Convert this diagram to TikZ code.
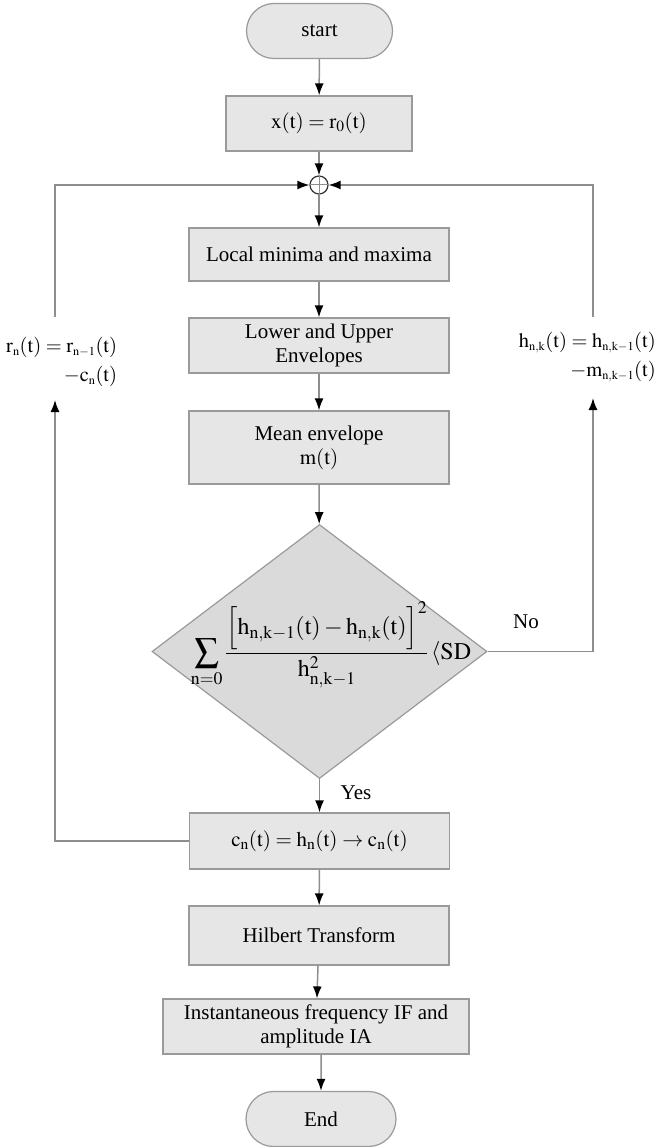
\documentclass[tikz,border=0pt]{standalone}
\usepackage{mathptmx}
\usepackage{fontspec}
\setmainfont{Liberation Serif}
\usetikzlibrary{shapes.geometric,shapes.misc,arrows.meta,calc}
\definecolor{boxgray}{HTML}{E6E6E6}
\definecolor{diagray}{HTML}{DADADA}
\definecolor{bordergray}{HTML}{9A9A9A}
\definecolor{linegray}{HTML}{8E8E8E}
\begin{document}
\begin{tikzpicture}[x=1pt,y=-1pt,
  font=\fontsize{21}{24}\selectfont,
  box/.style={draw=bordergray, fill=boxgray, line width=1.2pt, minimum width=260pt, minimum height=55pt, inner sep=2pt, align=center},
  term/.style={draw=bordergray, fill=boxgray, line width=1.2pt, rounded rectangle, minimum width=150pt, minimum height=55pt, inner sep=2pt},
  dia/.style={draw=bordergray, fill=diagray, line width=1.2pt, diamond, minimum width=335pt, minimum height=254pt, inner sep=0pt},
  conn/.style={draw=linegray, line width=1.5pt},
  arr/.style={conn, -{Latex[length=12pt,width=9pt,color=black]}},
  lbl/.style={inner sep=1pt},
  side/.style={inner sep=1pt, align=right, font=\fontsize{20.5}{24}\selectfont}
]
\useasboundingbox (0,0) rectangle (659,1147);

\node[term] (start) at (319.5,31) {start};
\node[box, minimum width=186pt] (init) at (319,123.5) {$\mathrm{x(t) = r_0(t)}$};
\node[circle, draw=black!80, line width=1.2pt, fill=white, minimum size=18pt, inner sep=0pt] (sum) at (319,185) {};
\draw[linegray, line width=1pt] (sum.north) -- (sum.south) (sum.west) -- (sum.east);
\node[box, minimum height=53pt] (local) at (319,254.5) {Local minima and maxima};
\node[box] (env) at (319,345.5) {Lower and Upper\\Envelopes};
\node[box, minimum height=73pt] (mean) at (319,447.5) {Mean envelope\\$\mathrm{m(t)}$};
\node[dia] (test) at (319.5,651.5) {};
\node[lbl, font=\fontsize{24}{28}\selectfont] (formula) at (331,645) {$\displaystyle\sum_{\mathrm{n=0}}\frac{\Bigl[\mathrm{h_{n,k-1}(t) - h_{n,k}(t)}\Bigr]^2}{\mathrm{h^2_{n,k-1}}}\,\langle\mathrm{SD}$};
\node[box, minimum height=56pt] (cn) at (319.5,841) {$\mathrm{c_n(t) = h_n(t) \rightarrow c_n(t)}$};
\node[box, minimum height=59pt] (hilb) at (319,935.5) {Hilbert Transform};
\node[box, minimum width=306pt] (inst) at (316,1026.5) {Instantaneous frequency IF and\\amplitude IA};
\node[term, minimum width=154pt] (end) at (321,1119) {End};

\node[side, anchor=west] (lblL) at (5,362) {$\mathrm{r_{\scriptscriptstyle n}(t) = r_{\scriptscriptstyle n-1}(t)}$\\[5pt]$\mathrm{-c_{\scriptscriptstyle n}(t)}$};
\node[side, anchor=east] (lblR) at (657,357) {$\mathrm{h_{\scriptscriptstyle n,k}(t) = h_{\scriptscriptstyle n,k-1}(t)}$\\[5pt]$\mathrm{-m_{\scriptscriptstyle n,k-1}(t)}$};
\node[lbl] (no) at (526,622) {No};
\node[lbl] (yes) at (356,793) {Yes};

\coordinate (Ltop) at (55,317);
\coordinate (Lbot) at (55,400);
\coordinate (Rtop) at (593,317);
\coordinate (Rbot) at (593,398);

\draw[arr] (start) -- (init);
\draw[arr] (init) -- (sum);
\draw[arr] (sum) -- (local);
\draw[arr] (local) -- (env);
\draw[arr] (env) -- (mean);
\draw[arr] (mean) -- (test);
\draw[arr] (test) -- (cn);
\draw[arr] (cn) -- (hilb);
\draw[arr] (hilb) -- (inst);
\draw[arr] (inst.south -| end) -- (end);

\draw[arr] (Ltop) |- (sum);
\draw[arr] (Rtop) |- (sum);
\draw[arr] (cn.west) -| (Lbot);
\draw[arr] (test.east) -| (Rbot);
\end{tikzpicture}
\end{document}
